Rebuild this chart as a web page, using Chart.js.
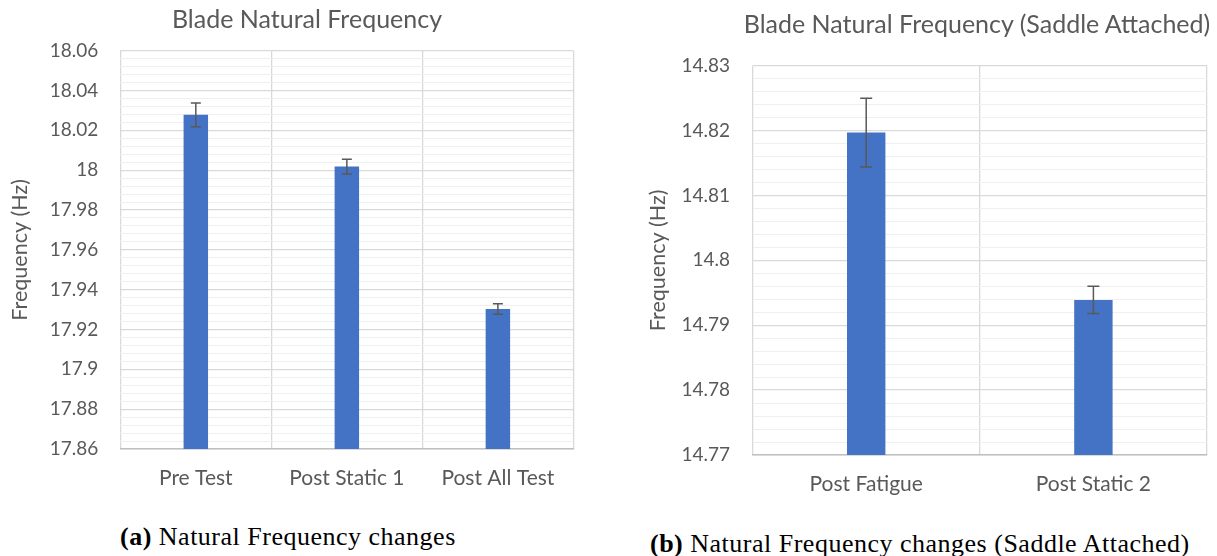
<!DOCTYPE html>
<html>
<head>
<meta charset="utf-8">
<title>Blade Natural Frequency</title>
<script src="https://cdn.jsdelivr.net/npm/chart.js@4"></script>
<style>
  body { margin:0; width:1217px; height:556px; overflow:hidden; background:#fff; position:relative; }
  canvas { position:absolute; top:0; }
  .ttl { position:absolute; font-family:Lato, sans-serif; font-size:25px; line-height:30px; color:#595959; white-space:nowrap; transform:translateX(-50%); }
  .cap { position:absolute; font-family:"Liberation Serif", serif; font-size:26px; letter-spacing:0.5px; color:#000; white-space:nowrap; line-height:30px; }
</style>
</head>
<body>
<canvas id="chart-a" width="614" height="500" style="left:0"></canvas>
<canvas id="chart-b" width="577" height="500" style="left:640px"></canvas>
<div class="ttl" style="left:307px;top:2.6px">Blade Natural Frequency</div>
<div class="ttl" style="left:977px;top:7.8px">Blade Natural Frequency (Saddle Attached)</div>
<div class="cap" style="left:120px;top:522px"><b>(a)</b> Natural Frequency changes</div>
<div class="cap" style="left:650px;top:529px"><b>(b)</b> Natural Frequency changes (Saddle Attached)</div>

<script>
// chart (a)
var labelsA = ["Pre Test", "Post Static 1", "Post All Test"];
var valuesA = [18.0278, 18.0018, 17.9303];
var errorsA = [0.0060, 0.0037, 0.0026];

// chart (b)
var labelsB = ["Post Fatigue", "Post Static 2"];
var valuesB = [14.8197, 14.7939];
var errorsB = [0.0053, 0.0021];

var grey = "#595959";

// simple error bars drawn with the y scale
var errorBarPlugin = {
    id: "errorBars",
    afterDatasetsDraw: function(chart, args, opts) {
        var ctx = chart.ctx, y = chart.scales.y;
        var vals = chart.data.datasets[0].data;
        chart.getDatasetMeta(0).data.forEach(function(bar, i) {
            var top = y.getPixelForValue(vals[i] + opts.errors[i]);
            var bot = y.getPixelForValue(vals[i] - opts.errors[i]);
            ctx.save();
            ctx.strokeStyle = grey;
            ctx.lineWidth = 1.5;
            ctx.beginPath();
            ctx.moveTo(bar.x, top); ctx.lineTo(bar.x, bot);
            ctx.moveTo(bar.x - opts.cap, top); ctx.lineTo(bar.x + opts.cap, top);
            ctx.moveTo(bar.x - opts.cap, bot); ctx.lineTo(bar.x + opts.cap, bot);
            ctx.stroke();
            ctx.restore();
        });
    }
};

function loadFreqChart(id, labels, values, errors, s) {
    var isMajor = function(v) { return Math.round(v * 1000) % s.major === 0; };
    new Chart(document.getElementById(id), {
        type: "bar",
        data: {
            labels: labels,
            datasets: [{
                data: values,
                backgroundColor: "#4472C4",
                barPercentage: s.barPct,
                categoryPercentage: 1
            }]
        },
        options: {
            responsive: false,
            animation: false,
            layout: { padding: { left: 0, right: s.padRight, top: s.padTop, bottom: 0 } },
            plugins: {
                legend: { display: false },
                tooltip: { enabled: false },
                title: { display: false },
                errorBars: { errors: errors, cap: s.cap }
            },
            scales: {
                x: {
                    grid: { color: "#d9d9d9", lineWidth: 1.3, drawTicks: false },
                    border: { color: "#bfbfbf", width: 1.5 },
                    ticks: { color: grey, padding: 17, font: { family: "Lato", size: 21 } },
                    afterFit: function(scale) { scale.height = s.xHeight; }
                },
                y: {
                    min: s.min,
                    max: s.max,
                    grid: {
                        drawTicks: false,
                        color: function(c) { return isMajor(c.tick.value) ? "#d9d9d9" : "#efefef"; },
                        lineWidth: function(c) { return isMajor(c.tick.value) ? 1.3 : 1; }
                    },
                    border: { display: false },
                    ticks: {
                        stepSize: s.step,
                        autoSkip: false,
                        color: grey,
                        padding: s.tickPad,
                        font: { family: "Lato", size: 19 },
                        callback: function(v) { return isMajor(v) ? String(parseFloat(v.toFixed(3))) : ""; }
                    },
                    title: {
                        display: true,
                        text: "Frequency (Hz)",
                        color: grey,
                        font: { family: "Lato", size: 21.5, weight: "normal" },
                        padding: { top: s.yTitlePad, bottom: 0 }
                    },
                    afterFit: function(scale) { scale.width = s.yWidth; }
                }
            }
        },
        plugins: [errorBarPlugin]
    });
}

document.fonts.load("19px Lato").then(function() {
    loadFreqChart("chart-a", labelsA, valuesA, errorsA, {
        min: 17.86, max: 18.06, step: 0.004, major: 20,
        barPct: 0.162, cap: 5, padTop: 50.7, padRight: 40.6, yWidth: 120.3, tickPad: 22,
        yTitlePad: 6.7, xHeight: 51
    });
    loadFreqChart("chart-b", labelsB, valuesB, errorsB, {
        min: 14.77, max: 14.83, step: 0.002, major: 10,
        barPct: 0.169, cap: 6, padTop: 65.7, padRight: 10, yWidth: 112.6, tickPad: 22.6,
        yTitlePad: 5.1, xHeight: 45
    });
});
</script>
</body>
</html>
